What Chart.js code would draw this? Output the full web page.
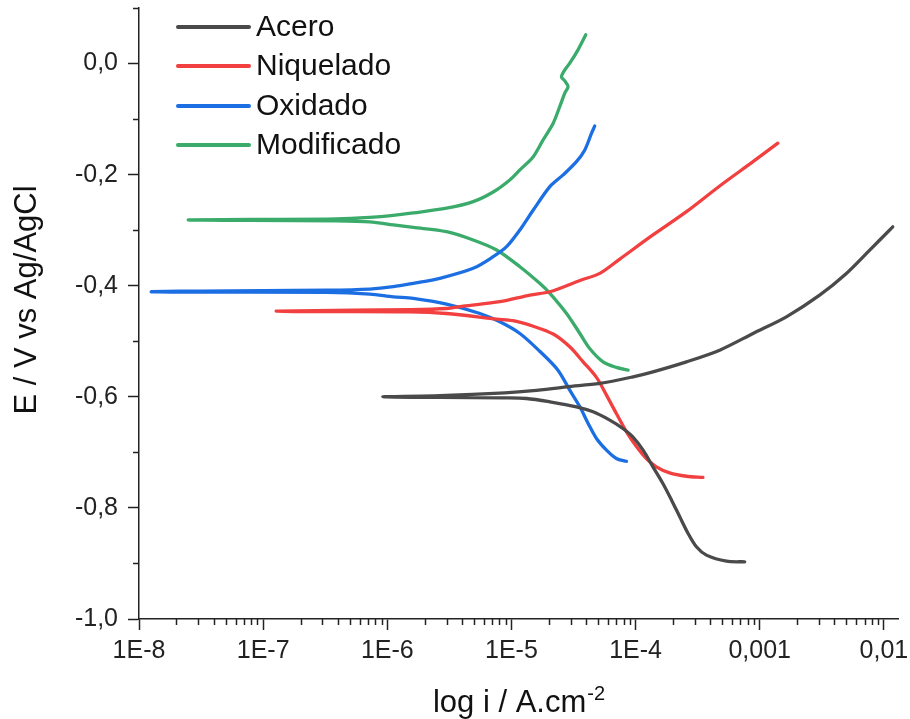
<!DOCTYPE html>
<html><head><meta charset="utf-8">
<script src="https://cdn.jsdelivr.net/npm/chart.js@4.4.1/dist/chart.umd.min.js"></script>
<style>html,body{margin:0;padding:0;background:#fff;}#wrap{width:910px;height:719px;position:relative;}</style>
</head><body><div id="wrap"><canvas id="c" width="910" height="719"></canvas></div>
<script>
// ---- data (current density A/cm2, potential V vs Ag/AgCl) ----
const seriesNames = ['Acero', 'Niquelado', 'Oxidado', 'Modificado'];

const aceroI = [7.57e-4, 5.40e-4, 3.72e-4, 3.09e-4, 2.65e-4, 2.27e-4, 1.95e-4, 1.66e-4, 1.38e-4, 1.15e-4, 9.5e-5, 7.9e-5, 6.2e-5, 4.55e-5, 3.34e-5, 2.04e-5, 1.32e-5, 8.5e-6, 2.65e-6, 9.2e-7,
  2.65e-6, 8.85e-6, 1.50e-5, 2.78e-5, 5.15e-5, 9.55e-5, 1.38e-4, 2.57e-4, 4.76e-4, 8.83e-4, 1.64e-3, 3.04e-3, 4.99e-3, 7.69e-3, 1.18e-2];
const aceroE = [-0.897, -0.896, -0.885, -0.870, -0.846, -0.816, -0.786, -0.756, -0.726, -0.696, -0.672, -0.657, -0.642, -0.627, -0.618, -0.609, -0.603, -0.602, -0.601, -0.600,
  -0.598, -0.593, -0.589, -0.582, -0.576, -0.564, -0.555, -0.537, -0.516, -0.486, -0.456, -0.417, -0.378, -0.336, -0.294];

const niqI = [3.49e-4, 2.57e-4, 1.88e-4, 1.47e-4, 1.22e-4, 1.02e-4, 8.45e-5, 7.0e-5, 5.83e-5, 4.84e-5, 3.78e-5, 2.95e-5, 2.17e-5, 1.50e-5, 1.03e-5, 7.6e-6, 3.0e-6, 1.52e-6, 1.98e-7, 1.29e-7,
  1.52e-6, 3.0e-6, 4.08e-6, 8.07e-6, 1.41e-5, 2.04e-5, 3.56e-5, 5.15e-5, 7.46e-5, 1.38e-4, 2.57e-4, 4.76e-4, 8.83e-4, 1.40e-3];
const niqE = [-0.745, -0.743, -0.737, -0.726, -0.711, -0.690, -0.663, -0.630, -0.597, -0.565, -0.537, -0.510, -0.487, -0.473, -0.463, -0.460, -0.450, -0.447, -0.4465, -0.4456,
  -0.443, -0.441, -0.4366, -0.4288, -0.4168, -0.4108, -0.3906, -0.3777, -0.352, -0.3086, -0.2667, -0.2204, -0.1766, -0.1434];

const oxiI = [8.45e-5, 7.0e-5, 5.83e-5, 4.84e-5, 4.15e-5, 3.56e-5, 2.95e-5, 2.37e-5, 1.69e-5, 1.17e-5, 8.07e-6, 5.57e-6, 3.0e-6, 1.62e-6, 1.12e-6, 7.24e-7, 3.24e-7, 1.78e-8, 1.26e-8,
  3.1e-8, 3.24e-7, 7.24e-7, 1.12e-6, 1.62e-6, 2.65e-6, 4.92e-6, 7.13e-6, 9.14e-6, 1.17e-5, 1.50e-5, 2.04e-5, 2.61e-5, 3.34e-5, 3.90e-5, 4.42e-5, 4.69e-5];
const oxiE = [-0.716, -0.711, -0.696, -0.675, -0.648, -0.618, -0.588, -0.552, -0.518, -0.486, -0.465, -0.450, -0.433, -0.4227, -0.420, -0.415, -0.412, -0.4114, -0.4108,
  -0.4096, -0.408, -0.406, -0.4018, -0.3957, -0.3867, -0.3687, -0.3477, -0.3297, -0.2996, -0.2636, -0.2216, -0.2005, -0.1766, -0.1555, -0.1254, -0.1123];

const modI = [8.71e-5, 7.0e-5, 5.47e-5, 4.27e-5, 3.56e-5, 2.78e-5, 2.04e-5, 1.69e-5, 1.17e-5, 7.6e-6, 4.92e-6, 3.0e-6, 1.62e-6, 1.12e-6, 7.24e-7, 3.91e-7, 7.84e-8, 2.49e-8,
  7.84e-8, 3.91e-7, 7.24e-7, 1.12e-6, 1.62e-6, 3.0e-6, 4.92e-6, 7.13e-6, 9.7e-6, 1.17e-5, 1.50e-5, 1.80e-5, 2.17e-5, 2.45e-5, 2.69e-5, 2.86e-5, 2.69e-5, 2.53e-5, 2.69e-5, 2.95e-5, 3.44e-5, 3.97e-5];
const modE = [-0.552, -0.547, -0.537, -0.513, -0.486, -0.450, -0.4137, -0.3957, -0.3658, -0.3357, -0.3177, -0.3027, -0.2951, -0.2906, -0.2852, -0.2834, -0.2825, -0.2816,
  -0.2807, -0.2798, -0.2771, -0.2735, -0.269, -0.2605, -0.2486, -0.2312, -0.2095, -0.1915, -0.1676, -0.1375, -0.1074, -0.0775, -0.0533, -0.0414, -0.0312, -0.024, -0.0114, 0.0007, 0.0247, 0.0517];

const xMajorTicks = [1e-8, 1e-7, 1e-6, 1e-5, 1e-4, 1e-3, 1e-2];
const xTickLabels = ['1E-8', '1E-7', '1E-6', '1E-5', '1E-4', '0,001', '0,01'];
const yMajorTicks = [-1.0, -0.8, -0.6, -0.4, -0.2, 0.0];
const yTickLabels = ['-1,0', '-0,8', '-0,6', '-0,4', '-0,2', '0,0'];
const yMinorTicks = [-0.9, -0.7, -0.5, -0.3, -0.1, 0.1];

const xTitle = 'log i / A.cm';
const xTitleSup = '-2';
const yTitle = 'E / V vs Ag/AgCl';

// ---- styling ----
const colors = ['#4a4a4a', '#f23f3f', '#1c6ee3', '#3aab6a'];
const FONT = '"Liberation Sans", Arial, sans-serif';
const AXIS = '#222222';

const xMinorTicks = [];
xMajorTicks.slice(0, -1).forEach(m => { for (let k = 2; k <= 9; k++) xMinorTicks.push(+(m * k).toPrecision(3)); });
const xAllTicks = xMajorTicks.concat(xMinorTicks).sort((a, b) => a - b);
const yAllTicks = yMajorTicks.concat(yMinorTicks).sort((a, b) => a - b);

const isXMajor = v => xMajorTicks.findIndex(m => Math.abs(Math.log10(v) - Math.log10(m)) < 1e-6);
const isYMajor = v => yMajorTicks.findIndex(m => Math.abs(v - m) < 1e-6);

const seriesI = [aceroI, niqI, oxiI, modI];
const seriesE = [aceroE, niqE, oxiE, modE];
const datasets = seriesNames.map((name, s) => ({
  label: name,
  data: seriesI[s].map((v, k) => ({ x: v, y: seriesE[s][k] })),
  showLine: true,
  borderColor: colors[s],
  backgroundColor: colors[s],
  borderWidth: 3.3,
  pointRadius: 0,
  tension: 0.3,
  borderJoinStyle: 'round',
  borderCapStyle: 'round',
  fill: false
}));

const decorPlugin = {
  id: 'decor',
  afterDraw(chart) {
    const ctx = chart.ctx;
    const xs = chart.scales.x, ys = chart.scales.y;
    const area = chart.chartArea;
    ctx.save();
    // minor ticks
    ctx.strokeStyle = AXIS; ctx.lineWidth = 1.5;
    xMinorTicks.forEach(v => {
      const p = Math.round(xs.getPixelForValue(v)) + 0.5;
      ctx.beginPath(); ctx.moveTo(p, area.bottom); ctx.lineTo(p, area.bottom + 6); ctx.stroke();
    });
    yMinorTicks.forEach(v => {
      const p = Math.round(ys.getPixelForValue(v)) + 0.5;
      ctx.beginPath(); ctx.moveTo(area.left, p); ctx.lineTo(area.left - 6, p); ctx.stroke();
    });
    // legend
    const rows = [27, 66, 106, 145];
    seriesNames.forEach((name, s) => {
      ctx.strokeStyle = colors[s]; ctx.lineWidth = 4; ctx.lineCap = 'round';
      ctx.beginPath(); ctx.moveTo(178, rows[s]); ctx.lineTo(249, rows[s]); ctx.stroke();
      ctx.fillStyle = '#111'; ctx.font = '30px ' + FONT; ctx.textBaseline = 'middle'; ctx.textAlign = 'left';
      ctx.fillText(name, 256, rows[s] + 1);
    });
    // axis titles
    ctx.fillStyle = '#111';
    ctx.font = '31px ' + FONT; ctx.textBaseline = 'alphabetic';
    const w1 = ctx.measureText(xTitle).width;
    ctx.font = '20px ' + FONT;
    const w2 = ctx.measureText(xTitleSup).width;
    const cx = (area.left + area.right) / 2;
    const x0 = cx - (w1 + w2) / 2;
    ctx.font = '31px ' + FONT; ctx.textAlign = 'left';
    ctx.fillText(xTitle, x0, 712);
    ctx.font = '20px ' + FONT;
    ctx.fillText(xTitleSup, x0 + w1 + 1, 700);
    ctx.save();
    ctx.translate(27, 300); ctx.rotate(-Math.PI / 2);
    ctx.font = '31px ' + FONT; ctx.textAlign = 'center'; ctx.textBaseline = 'middle';
    ctx.fillText(yTitle, 0, 0);
    ctx.restore();
    ctx.restore();
  }
};

new Chart(document.getElementById('c'), {
  type: 'scatter',
  data: { datasets },
  options: {
    responsive: false, animation: false, devicePixelRatio: 1,
    layout: { padding: { left: 0, right: 12, top: 8, bottom: 0 } },
    plugins: { legend: { display: false }, tooltip: { enabled: false } },
    scales: {
      x: {
        type: 'logarithmic', min: 1e-8, max: 0.013,
        afterBuildTicks: s => { s.ticks = xAllTicks.map(v => ({ value: v })); },
        afterFit: s => { s.height = 100; s.paddingLeft = 0; s.paddingRight = 0; },
        border: { display: true, color: AXIS, width: 1.5 },
        grid: { drawOnChartArea: false, drawTicks: true, tickLength: 11, tickWidth: 1.5,
                tickColor: c => (c.tick && isXMajor(c.tick.value) >= 0) ? AXIS : 'rgba(0,0,0,0)' },
        ticks: { autoSkip: false, maxRotation: 0, minRotation: 0, padding: 6, color: '#222',
                 font: { family: FONT, size: 25 },
                 callback: v => { const i = isXMajor(v); return i >= 0 ? xTickLabels[i] : ''; } }
      },
      y: {
        type: 'linear', min: -1.0, max: 0.1,
        afterBuildTicks: s => { s.ticks = yAllTicks.map(v => ({ value: v })); },
        afterFit: s => { s.width = 139; s.paddingTop = 0; s.paddingBottom = 0; },
        border: { display: true, color: AXIS, width: 1.5 },
        grid: { drawOnChartArea: false, drawTicks: true, tickLength: 11, tickWidth: 1.5,
                tickColor: c => (c.tick && isYMajor(c.tick.value) >= 0) ? AXIS : 'rgba(0,0,0,0)' },
        ticks: { autoSkip: false, padding: 10, color: '#222',
                 font: { family: FONT, size: 25 },
                 callback: v => { const i = isYMajor(v); return i >= 0 ? yTickLabels[i] : ''; } }
      }
    }
  },
  plugins: [decorPlugin]
});
</script></body></html>
